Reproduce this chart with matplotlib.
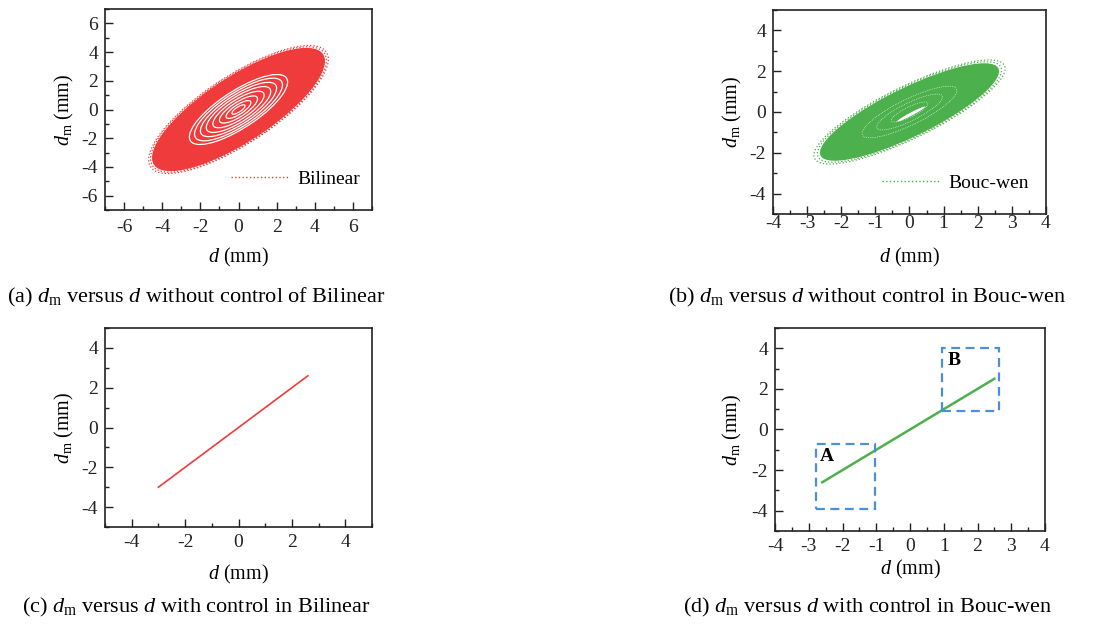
import matplotlib
matplotlib.use("Agg")
import matplotlib.pyplot as plt
from matplotlib.patches import Ellipse, Rectangle
from matplotlib.lines import Line2D
from matplotlib.ticker import MultipleLocator

plt.rcParams["font.family"] = "Liberation Serif"
plt.rcParams["mathtext.fontset"] = "custom"
plt.rcParams["mathtext.rm"] = "Liberation Serif"
plt.rcParams["mathtext.it"] = "Liberation Serif:italic"

RED = "#ef3b3b"
GREEN = "#4cb04c"
BLUE = "#4a8fd8"

# (a) Bilinear without control: orbit envelope (semi-axes mm, tilt deg)
bil_fill = (5.9, 2.05)
bil_tilt = 43.0
bil_outer_rings = [6.0, 6.13]
bil_gap_rings = [0.45, 0.85, 1.3, 1.75, 2.2, 2.6, 3.0, 3.35]

# (b) Bouc-wen without control
bw_fill = (3.4, 1.02)
bw_tilt = 41.8
bw_outer_rings = [3.5, 3.63]
bw_gap_rings = [0.7, 1.25, 1.8]

# (c) Bilinear with control
bil_ctrl_d = [-3.0, 2.6]
bil_ctrl_dm = [-3.0, 2.6]

# (d) Bouc-wen with control, plus zoom boxes (x0, y0, x1, y1)
bw_ctrl_d = [-2.6, 2.5]
bw_ctrl_dm = [-2.6, 2.5]
box_labels = ["A", "B"]
box_extents = [(-2.8, -3.9, -1.05, -0.7), (0.95, 0.9, 2.65, 4.0)]
box_label_xy = [(-2.45, -1.35), (1.3, 3.4)]

W, H = 1104, 631
fig = plt.figure(figsize=(W / 100, H / 100), dpi=100)


def add_ax(l, t, r, b):
    return fig.add_axes([l / W, 1 - b / H, (r - l) / W, (b - t) / H])


axA = add_ax(105, 9, 372, 210)
axB = add_ax(773, 10, 1046, 214)
axC = add_ax(105, 328, 372, 527)
axD = add_ax(775, 328, 1045, 531)


def style(ax, xlim, ylim, xmaj, xmin, ymaj, ymin, xpad, xlab_y, ylab_x):
    ax.set_xlim(*xlim)
    ax.set_ylim(*ylim)
    ax.xaxis.set_major_locator(MultipleLocator(xmaj))
    ax.xaxis.set_minor_locator(MultipleLocator(xmin))
    ax.yaxis.set_major_locator(MultipleLocator(ymaj))
    ax.yaxis.set_minor_locator(MultipleLocator(ymin))
    ax.tick_params(which="both", direction="in", top=False, right=False,
                   labelsize=14, colors="#222222", width=1.0)
    ax.tick_params(which="major", length=6)
    ax.tick_params(which="minor", length=3)
    ax.tick_params(axis="x", pad=xpad)
    ax.tick_params(axis="y", pad=5)
    for s in ax.spines.values():
        s.set_linewidth(1.2)
        s.set_color("#222222")
    ax.set_xlabel(r"$d$ (mm)", fontsize=14.5, va="center")
    ax.set_ylabel(r"$d_\mathrm{m}$ (mm)", fontsize=14.5, va="center")
    ax.xaxis.set_label_coords(0.5, xlab_y)
    ax.yaxis.set_label_coords(ylab_x, 0.5)
    ax.xaxis.set_major_formatter(lambda v, p: f"{v:g}")
    ax.yaxis.set_major_formatter(lambda v, p: f"{v:g}")


def orbit_cloud(ax, fill, tilt, outer, gaps, color, gap_lw, gap_ls):
    ratio = fill[1] / fill[0]
    ax.add_patch(Ellipse((0, 0), 2 * fill[0], 2 * fill[1], angle=tilt,
                         facecolor=color, edgecolor="none", zorder=2))
    for a in outer:
        ax.add_patch(Ellipse((0, 0), 2 * a, 2 * a * ratio, angle=tilt, fill=False,
                             edgecolor=color, lw=0.9, ls=":", zorder=2))
    for a in gaps:
        ax.add_patch(Ellipse((0, 0), 2 * a, 2 * a * ratio, angle=tilt, fill=False,
                             edgecolor="white", lw=gap_lw, ls=gap_ls, zorder=3))


# (a)
style(axA, (-7, 7), (-7, 7), 2, 1, 2, 1, 6.5, -0.234, -0.15)
orbit_cloud(axA, bil_fill, bil_tilt, bil_outer_rings, bil_gap_rings, RED, 0.9, "-")
axA.add_patch(Ellipse((0, 0), 0.5, 0.5 * bil_fill[1] / bil_fill[0], angle=bil_tilt,
                      facecolor=RED, edgecolor="none", zorder=4))
axA.legend([Line2D([], [], color=RED, lw=1.0, ls=":")], ["Bilinear"],
           loc="center right", bbox_to_anchor=(1.0, 0.155), frameon=False,
           fontsize=14, handlelength=3.0, handletextpad=0.4, borderaxespad=0.2)

# (b)
style(axB, (-4, 4), (-5, 5), 1, 0.5, 2, 1, 1.0, -0.211, -0.147)
orbit_cloud(axB, bw_fill, bw_tilt, bw_outer_rings, bw_gap_rings, GREEN, 0.5, ":")
axB.add_patch(Ellipse((0.05, -0.1), 1.1, 0.13, angle=bw_tilt,
                      facecolor="white", edgecolor="none", zorder=4))
axB.legend([Line2D([], [], color=GREEN, lw=1.0, ls=":")], ["Bouc-wen"],
           loc="center right", bbox_to_anchor=(1.0, 0.15), frameon=False,
           fontsize=14, handlelength=3.0, handletextpad=0.4, borderaxespad=0.5)

# (c)
style(axC, (-5, 5), (-5, 5), 2, 1, 2, 1, 5.0, -0.241, -0.15)
axC.plot(bil_ctrl_d, bil_ctrl_dm, color=RED, lw=1.2, zorder=3)

# (d)
style(axD, (-4, 4), (-5, 5), 1, 0.5, 2, 1, 5.0, -0.192, -0.156)
axD.plot(bw_ctrl_d, bw_ctrl_dm, color=GREEN, lw=1.8, zorder=3)
for lab, (x0, y0, x1, y1), (tx, ty) in zip(box_labels, box_extents, box_label_xy):
    axD.add_patch(Rectangle((x0, y0), x1 - x0, y1 - y0, fill=False, edgecolor=BLUE,
                            lw=1.6, ls=(0, (4, 2.5)), zorder=4))
    axD.text(tx, ty, lab, fontsize=14, fontweight="bold", ha="center", va="center",
             zorder=5)

# captions
cap_kw = dict(fontsize=16, va="center", ha="left")
fig.text(7 / W, 1 - 297 / H,
         r"(a) $d_\mathrm{m}$ versus $d$ without control of Bilinear", **cap_kw)
fig.text(668 / W, 1 - 297 / H,
         r"(b) $d_\mathrm{m}$ versus $d$ without control in Bouc-wen", **cap_kw)
fig.text(22 / W, 1 - 607 / H,
         r"(c) $d_\mathrm{m}$ versus $d$ with control in Bilinear", **cap_kw)
fig.text(683 / W, 1 - 607 / H,
         r"(d) $d_\mathrm{m}$ versus $d$ with control in Bouc-wen", **cap_kw)

fig.savefig("out.png", dpi=100, facecolor="white")
